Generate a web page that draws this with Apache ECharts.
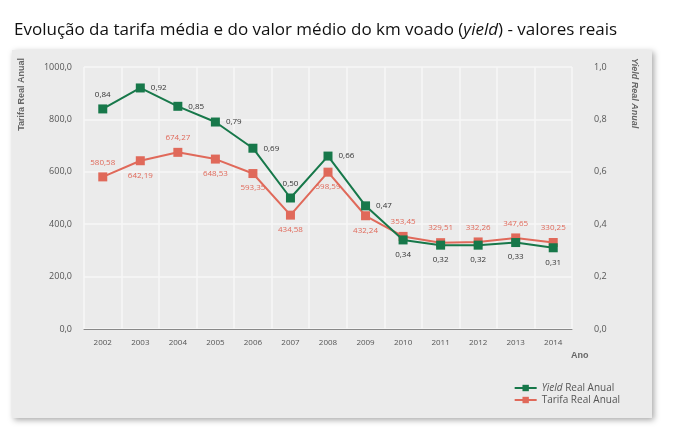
<!DOCTYPE html>
<html><head><meta charset="utf-8">
<script src="https://cdn.jsdelivr.net/npm/echarts@6/dist/echarts.min.js"></script>
<style>html,body{margin:0;background:#fff}#c{width:675px;height:442px}</style>
</head><body><div id="c"></div>
<script>
const years = ['2002','2003','2004','2005','2006','2007','2008','2009','2010','2011','2012','2013','2014'];
const tarifa = [580.58,642.19,674.27,648.53,593.35,434.58,598.59,432.24,353.45,329.51,332.26,347.65,330.25];
const yieldVals = [0.84,0.92,0.85,0.79,0.69,0.50,0.66,0.47,0.34,0.32,0.32,0.33,0.31];
const yieldPos = ['top','right','right','right','right','top','right','right','bottom','bottom','bottom','bottom','bottom'];
const tarifaPos = ['top','bottom','top','bottom','bottom','bottom','bottom','bottom','top','top','top','top','top'];
const fmt = v => v.toFixed(2).replace('.', ',');
const green = '#17784a', red = '#e0695a';
const chart = echarts.init(document.getElementById('c'));
chart.setOption({
  backgroundColor: '#fff',
  textStyle: {fontFamily: 'Open Sans'},
  graphic: [
    {type:'rect', shape:{x:12,y:50,width:640,height:368}, style:{fill:'#ebebeb', shadowBlur:6, shadowColor:'rgba(0,0,0,0.35)', shadowOffsetX:2, shadowOffsetY:2}, z:-10},
    {type:'text', left:14, top:22, style:{text:'{a|Evolução da tarifa média e do valor médio do km voado (}{b|yield}{a|) - valores reais}', rich:{a:{fontSize:17,fill:'#111',fontFamily:'Open Sans'},b:{fontSize:17,fill:'#111',fontStyle:'italic',fontFamily:'Open Sans'}}}},
    {type:'text', left:571, top:351, style:{text:'Ano', fontSize:9, fontWeight:'bold', fill:'#666'}},
    {type:'text', x:22, y:58, rotation:Math.PI/2, style:{text:'Tarifa Real Anual', fontSize:9, fontWeight:'bold', fill:'#666', align:'right', verticalAlign:'middle'}},
    {type:'text', x:634, y:58, rotation:-Math.PI/2, style:{text:'Yield Real Anual', fontSize:9, fontWeight:'bold', fontStyle:'italic', fill:'#666', align:'left', verticalAlign:'middle'}}
  ],
  grid: {left:84, right:103, top:67, bottom:113},
  legend: {orient:'vertical', right:50, top:378, itemGap:2, itemWidth:22, itemHeight:8,
    textStyle:{fontSize:10, color:'#555', rich:{i:{fontStyle:'italic',fontSize:10,color:'#555'}}},
    formatter: n => n==='Yield Real Anual' ? '{i|Yield} Real Anual' : n,
    data:['Yield Real Anual','Tarifa Real Anual']},
  xAxis: {type:'category', data:years, boundaryGap:true,
    axisLine:{lineStyle:{color:'#888'}}, axisTick:{show:false},
    axisLabel:{fontSize:8, color:'#555', margin:10},
    splitLine:{show:true, lineStyle:{color:'#f7f7f7', width:1.5}}},
  yAxis: [
    {type:'value', min:0, max:1000, interval:200,
     axisLabel:{fontSize:9, color:'#555', formatter:v=>v.toFixed(1).replace('.',','), margin:12},
     axisLine:{show:false}, splitLine:{lineStyle:{color:'#f7f7f7', width:1.5}}},
    {type:'value', min:0, max:1, interval:0.2,
     axisLabel:{fontSize:9, color:'#555', formatter:v=>v.toFixed(1).replace('.',','), margin:22},
     axisLine:{show:false}, splitLine:{show:false}}
  ],
  series: [
    {name:'Yield Real Anual', type:'line', yAxisIndex:1, color:green,
     data:yieldVals.map((v,i)=>({value:v, label:{position:yieldPos[i]}})),
     symbol:'rect', symbolSize:9, lineStyle:{width:2},
     label:{show:true, fontSize:8, color:'#333', formatter:p=>fmt(p.value), distance:6}, z:3},
    {name:'Tarifa Real Anual', type:'line', yAxisIndex:0, color:red,
     data:tarifa.map((v,i)=>({value:v, label:{position:tarifaPos[i]}})),
     symbol:'rect', symbolSize:9, lineStyle:{width:2},
     label:{show:true, fontSize:8, color:red, formatter:p=>fmt(p.value), distance:6}, z:2}
  ]
});
</script></body></html>
